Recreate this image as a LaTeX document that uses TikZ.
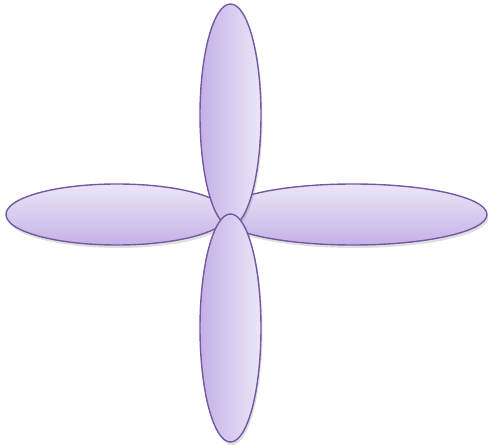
\documentclass[tikz,border=0pt]{standalone}
\usetikzlibrary{shapes.geometric,shadows}
\definecolor{petalline}{HTML}{7558A3}
\definecolor{petaldark}{HTML}{C4B1E6}
\definecolor{petallight}{HTML}{ECE6F8}
\tikzset{
  petal/.style={ellipse, draw=petalline, line width=1.4pt, inner sep=0pt,
    drop shadow={opacity=0.25, shadow xshift=1.5pt, shadow yshift=-3pt}},
  vpetal/.style={petal, left color=petaldark, right color=petallight,
    minimum width=61pt},
  hpetal/.style={petal, bottom color=petaldark, top color=petallight,
    minimum height=61pt}
}
\begin{document}
\begin{tikzpicture}[x=1pt, y=1pt]
  \useasboundingbox (0,0) rectangle (488,445);

  \node[hpetal, minimum width=268pt] (east) at (353,230.5) {};
  \node[hpetal, minimum width=222pt] (west) at (117,230.5) {};
  \node[vpetal, minimum height=222pt] (north) at (230.5,330) {};
  \node[vpetal, minimum height=228pt] (south) at (230.5,117) {};
\end{tikzpicture}
\end{document}
